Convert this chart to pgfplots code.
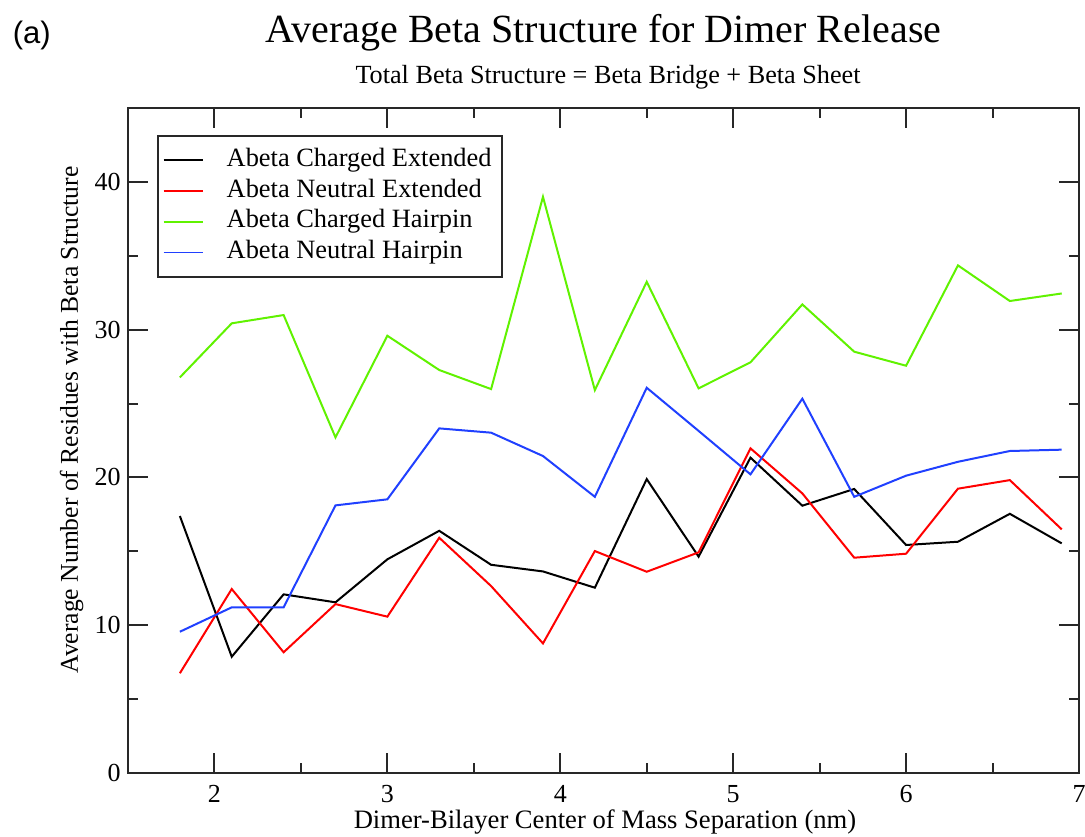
\documentclass[border=0pt]{standalone}
\usepackage{fontspec}
\setmainfont{Liberation Serif}
\newfontfamily\labelsans{Liberation Sans}
\usepackage{pgfplots}
\pgfplotsset{compat=1.18}
\usepackage{pgfplotstable}

\definecolor{gBlack}{RGB}{0,0,0}
\definecolor{gRed}{RGB}{255,0,0}
\definecolor{gGreen}{RGB}{96,242,0}
\definecolor{gBlue}{RGB}{32,64,255}
\definecolor{frame}{RGB}{40,40,40}

% separation (nm) vs. average number of residues in beta structure
\pgfplotstableread{
x    cext   next   chp    nhp
1.8  17.39  6.75   26.77  9.56
2.1  7.87   12.45  30.43  11.21
2.4  12.09  8.17   30.99  11.21
2.7  11.55  11.43  22.71  18.11
3.0  14.46  10.58  29.59  18.52
3.3  16.39  15.92  27.27  23.32
3.6  14.09  12.65  25.98  23.03
3.9  13.64  8.77   38.99  21.45
4.2  12.54  15.02  25.91  18.69
4.5  19.89  13.62  33.24  26.07
4.8  14.64  14.93  26.03  23.15
5.1  21.34  21.97  27.79  20.21
5.4  18.09  18.92  31.71  25.33
5.7  19.22  14.57  28.51  18.69
6.0  15.43  14.84  27.56  20.12
6.3  15.65  19.24  34.35  21.06
6.6  17.54  19.82  31.94  21.79
6.9  15.54  16.49  32.45  21.88
}\betadata

\begin{document}
\begin{tikzpicture}
\path[use as bounding box] (-64pt,-31.5pt) rectangle (478.5pt,386.5pt);
\begin{axis}[
  at={(0pt,0pt)}, anchor=south west,
  scale only axis, width=475.5pt, height=332.5pt,
  xmin=1.5, xmax=7, ymin=0, ymax=45,
  xtick={2,3,4,5,6,7}, ytick={0,10,20,30,40},
  minor x tick num=1, minor y tick num=1,
  tick align=inside,
  major tick length=10pt, minor tick length=5pt,
  every tick/.style={line width=1pt, frame},
  axis line style={line width=1pt, frame},
  /pgf/number format/assume math mode=true,
  ticklabel style={font=\fontsize{13}{15}\selectfont},
  xticklabel style={anchor=base, yshift=-14.5pt},
  yticklabel style={anchor=east, inner sep=0pt, xshift=-3.5pt},
  xlabel={Dimer-Bilayer Center of Mass Separation (nm)},
  ylabel={Average Number of Residues with Beta Structure},
  every axis x label/.style={at={(axis description cs:0.5016,0)}, yshift=-27.5pt, anchor=base, font=\fontsize{13.3}{16}\selectfont},
  every axis y label/.style={at={(axis description cs:0,0.531)}, xshift=-25pt, rotate=90, anchor=base, font=\fontsize{12.8}{15}\selectfont},
  legend cell align=left,
  legend style={at={(axis description cs:0.0302,0.9594)}, anchor=north west,
    draw=frame, line width=1pt, inner xsep=2.5pt, inner ysep=4.4pt,
    font=\fontsize{13.2}{15}\selectfont, row sep=0pt, column sep=9pt,
    nodes={inner xsep=2.5pt, inner ysep=1.7pt, text height=9pt, text depth=3pt}},
  legend image code/.code={\draw[#1, line width=0.8pt] (0pt,0pt) -- (19.7pt,0pt);},
  every axis plot/.append style={line width=1pt, no markers},
]
\addplot[gBlack] table[x=x, y=cext] {\betadata};
\addlegendentry{Abeta Charged Extended}
\addplot[gRed] table[x=x, y=next] {\betadata};
\addlegendentry{Abeta Neutral Extended}
\addplot[gGreen] table[x=x, y=chp] {\betadata};
\addlegendentry{Abeta Charged Hairpin}
\addplot[gBlue] table[x=x, y=nhp] {\betadata};
\addlegendentry{Abeta Neutral Hairpin}
\end{axis}
\node[anchor=base, font=\fontsize{20}{24}\selectfont] at (237.75pt,365.2pt) {Average Beta Structure for Dimer Release};
\node[anchor=base, font=\fontsize{13.1}{16}\selectfont] at (240pt,344.85pt) {Total Beta Structure = Beta Bridge + Beta Sheet};
\node[anchor=base west, inner sep=0pt, font=\labelsans\fontsize{15.5}{18}\selectfont] at (-57.75pt,364.75pt) {(a)};
\end{tikzpicture}
\end{document}
